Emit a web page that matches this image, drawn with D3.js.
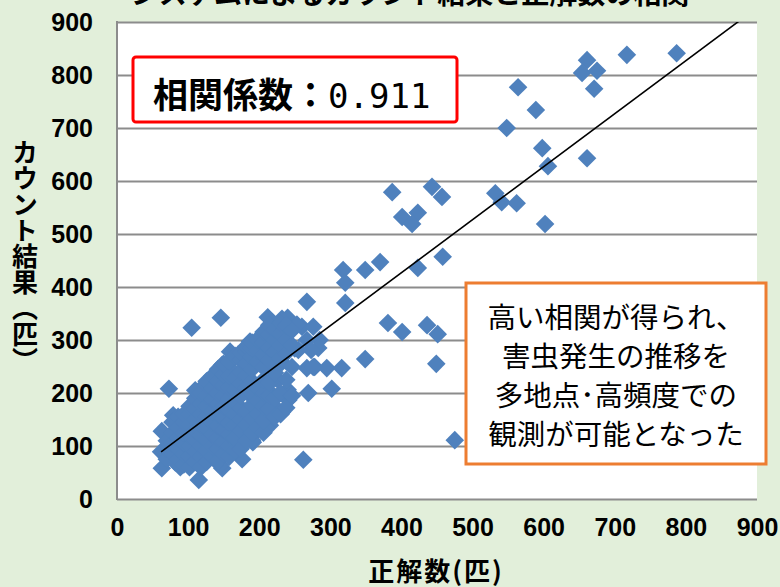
<!DOCTYPE html>
<html>
<head>
<meta charset="utf-8">
<script src="https://cdn.jsdelivr.net/npm/d3@7"></script>
<style>
body { margin: 0; background: #e2efda; }
.tick text { font-family: "Liberation Sans", Arial, sans-serif; font-weight: bold; font-size: 25px; fill: #000; }
.jp { font-family: "Noto Sans CJK JP", sans-serif; }
</style>
</head>
<body>
<div id="chart"></div>
<script>
// 正解数 (x) / カウント結果 (y) -- outliers and upper right group
var truthCounts = [
  787,717,661,654,675,671,564,589,548,598,
  606,661,532,541,562,602,387,443,457,401,
  423,415,458,423,370,349,318,321,321,267,
  381,401,436,451,260,276,285,283,278,295,
  316,349,449,269,302,475,262,105,146,73,
  79,63,62,63,89,115,148,176,
  // edge of the dense group
  110,124,148,170,184,204,218,240,267,273,
  255,267,215,191,145,190,232,241,222,212,
  232,250,187,253,276,212,232,240,246,226,
  212,240,159,166,162,180,166,190,162,222,
  198,180,208,166,190,82,
  // inside the dense group
  70,70,70, 78,78,78,78, 86,86,86,86,86, 94,94,94,94,94,94,
  102,102,102,102,102,102,102, 110,110,110,110,110,110,110,110,
  118,118,118,118,118,118,118,118, 126,126,126,126,126,126,126,126,126,
  134,134,134,134,134,134,134,134, 142,142,142,142,142,142,142,142,142,
  150,150,150,150,150,150,150,150,150, 158,158,158,158,158,158,158,158,158,
  166,166,166,166,166,166,166,166, 174,174,174,174,174,174,174,174,174,
  182,182,182,182,182,182,182,182, 190,190,190,190,190,190,190,190,190,
  198,198,198,198,198,198,198, 206,206,206,206,206,206,206,206,206,
  214,214,214,214,214,214,214, 222,222,222,222,222,222,
  230,230,230,230,230,230, 238,238,238,238,238, 246,246,246
];
var systemCounts = [
  841,838,828,804,808,774,777,734,700,662,
  628,643,577,560,558,519,579,589,570,532,
  540,519,457,436,447,432,432,408,370,372,
  332,315,328,311,325,325,300,285,249,247,
  247,264,255,200,208,111,74,323,342,208,
  158,128,89,58,60,36,58,75,
  180,216,253,272,285,310,334,342,300,281,
  281,247,139,107,64,120,164,187,228,252,
  258,284,297,329,249,343,340,313,249,225,
  206,206,278,268,243,230,206,192,168,174,
  155,136,136,111,111,69,
  75,95,110, 85,105,125,145, 75,95,115,135,155, 65,85,105,125,145,160,
  60,80,100,120,140,160,175, 70,90,110,130,150,170,190,205,
  60,80,100,120,140,160,180,200, 70,92,112,135,155,175,195,215,222,
  80,100,122,145,165,188,208,232, 72,95,115,138,160,180,200,222,245,
  85,108,130,152,175,195,215,235,255, 80,100,122,145,168,190,210,232,260,
  92,115,140,160,182,205,228,270, 95,128,150,172,195,218,240,262,275,
  110,140,165,210,233,255,278,288, 125,152,178,200,222,245,268,285,295,
  135,160,185,210,258,280,300, 125,148,175,200,225,248,272,295,315,
  170,195,220,262,285,310,328, 155,190,238,278,300,320,
  160,200,265,290,312,332, 172,225,275,300,328, 195,290,318
];

var xTicks = [0, 100, 200, 300, 400, 500, 600, 700, 800, 900];
var yTicks = [0, 100, 200, 300, 400, 500, 600, 700, 800, 900];

// trend line
var trendSlope = 1.0;
var trendIntercept = 27;

var titleText = "システムによるカウント結果と正解数の相関";
var xTitle = "正解数(匹)";
var yTitle = "カウント結果（匹）";
var corrLabel = "相関係数：";
var corrValue = "0.911";
var noteLines = ["高い相関が得られ、", "害虫発生の推移を", "多地点･高頻度での", "観測が可能となった"];

var w = 780;
var h = 587;
var plot = {left: 117, right: 757, top: 22, bottom: 499};

var svg = d3.select("#chart")
  .append("svg")
    .attr("width", w)
    .attr("height", h);

svg.append("rect")
  .attr("width", w)
  .attr("height", h)
  .attr("fill", "#e2efda");

var x = d3.scaleLinear().domain([0, 900]).range([plot.left, plot.right]);
var y = d3.scaleLinear().domain([0, 900]).range([plot.bottom, plot.top]);

// plot area
svg.append("rect")
  .attr("x", plot.left)
  .attr("y", plot.top)
  .attr("width", plot.right - plot.left)
  .attr("height", plot.bottom - plot.top)
  .attr("fill", "#fff");

// gridlines
var grid = svg.append("g")
  .attr("transform", "translate(" + plot.left + ",0)")
  .call(d3.axisLeft(y).tickValues(yTicks).tickSize(-(plot.right - plot.left)).tickFormat(""));
grid.select(".domain").remove();
grid.selectAll("line").attr("stroke", "#8c8c8c").attr("stroke-width", 2);

svg.append("line")
  .attr("x1", plot.left).attr("x2", plot.left)
  .attr("y1", plot.top - 1).attr("y2", plot.bottom + 1)
  .attr("stroke", "#8c8c8c")
  .attr("stroke-width", 2);

// <-- AXES -------------
var yaxis = svg.append("g")
  .attr("transform", "translate(" + plot.left + ",0)")
  .call(d3.axisLeft(y).tickValues(yTicks).tickSize(0).tickPadding(24));
yaxis.select(".domain").remove();

var xaxis = svg.append("g")
  .attr("transform", "translate(0," + plot.bottom + ")")
  .call(d3.axisBottom(x).tickValues(xTicks).tickSize(0).tickPadding(19));
xaxis.select(".domain").remove();
// -- AXES ------------->

// diamonds
var diamond = {
  draw: function(context, size) {
    var r = Math.sqrt(size / 2);
    context.moveTo(0, -r);
    context.lineTo(r, 0);
    context.lineTo(0, r);
    context.lineTo(-r, 0);
    context.closePath();
  }
};

svg.append("g")
  .selectAll("path")
  .data(d3.range(truthCounts.length))
  .enter().append("path")
    .attr("transform", function(i) { return "translate(" + x(truthCounts[i]) + "," + y(systemCounts[i]) + ")"; })
    .attr("d", d3.symbol().type(diamond).size(2 * 9.3 * 9.3))
    .attr("fill", "#4f81bd");

// trend line
svg.append("clipPath")
  .attr("id", "clip")
  .append("rect")
    .attr("x", plot.left)
    .attr("y", plot.top)
    .attr("width", plot.right - plot.left)
    .attr("height", plot.bottom - plot.top);

var trendX = [d3.min(truthCounts), 900];
svg.append("path")
  .datum(trendX)
  .attr("clip-path", "url(#clip)")
  .attr("d", d3.line()
    .x(function(d) { return x(d); })
    .y(function(d) { return y(trendSlope * d + trendIntercept); }))
  .attr("stroke", "#000")
  .attr("stroke-width", 1.6)
  .attr("fill", "none");

// titles
svg.append("text")
  .attr("class", "jp")
  .attr("x", 410)
  .attr("y", 4)
  .attr("text-anchor", "middle")
  .attr("font-size", 28)
  .attr("font-weight", "bold")
  .text(titleText);

svg.append("text")
  .attr("class", "jp")
  .attr("x", 436)
  .attr("y", 581)
  .attr("text-anchor", "middle")
  .attr("font-size", 26)
  .attr("font-weight", "bold")
  .attr("letter-spacing", 2)
  .text(xTitle);

svg.append("text")
  .attr("class", "jp")
  .attr("x", 25)
  .attr("y", 256)
  .attr("text-anchor", "middle")
  .attr("font-size", 26)
  .attr("font-weight", "bold")
  .style("writing-mode", "vertical-rl")
  .text(yTitle);

// correlation box
svg.append("rect")
  .attr("x", 133).attr("y", 57)
  .attr("width", 324).attr("height", 65)
  .attr("rx", 3)
  .attr("fill", "#fff")
  .attr("stroke", "#ff0000")
  .attr("stroke-width", 3);

var corr = svg.append("text")
  .attr("x", 153)
  .attr("y", 108);
corr.append("tspan")
  .attr("class", "jp")
  .attr("font-size", 35)
  .attr("font-weight", "bold")
  .text(corrLabel);
corr.append("tspan")
  .attr("font-family", "DejaVu Sans Mono, monospace")
  .attr("font-size", 34)
  .text(corrValue);

// note box
svg.append("rect")
  .attr("x", 466).attr("y", 283)
  .attr("width", 300).attr("height", 181)
  .attr("fill", "#fff")
  .attr("stroke", "#ed7d31")
  .attr("stroke-width", 3);

noteLines.forEach(function(d, i) {
  svg.append("text")
    .attr("class", "jp")
    .attr("x", 616)
    .attr("y", 328 + i * 39)
    .attr("text-anchor", "middle")
    .attr("font-size", 28.5)
    .text(d);
});
</script>
</body>
</html>
